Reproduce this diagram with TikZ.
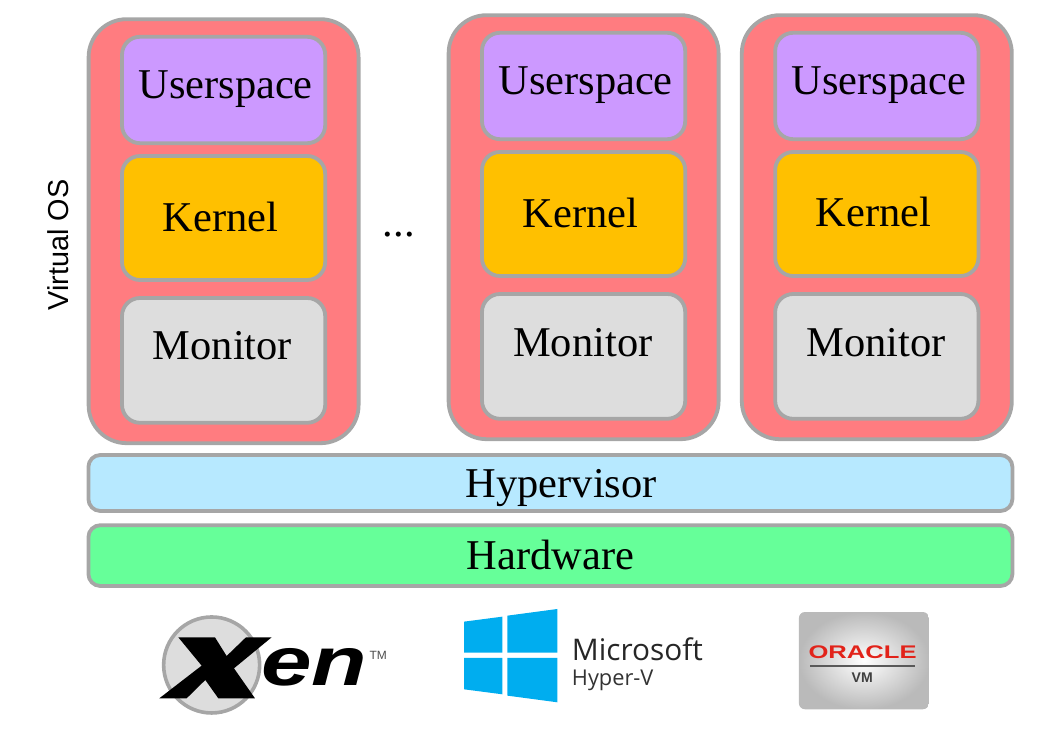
\documentclass[tikz,border=0pt]{standalone}
\usepackage{fontspec}
\setmainfont{Liberation Serif}
\setsansfont{Liberation Sans}
\newfontfamily\msfont{Open Sans}
\usepackage{tikz}
\usetikzlibrary{positioning,shadings}
\definecolor{vmred}{HTML}{FF7C80}
\definecolor{userpurple}{HTML}{CC99FF}
\definecolor{kernelorange}{HTML}{FFC000}
\definecolor{monitorgrey}{HTML}{DDDDDD}
\definecolor{hyperblue}{HTML}{B7E9FF}
\definecolor{hardgreen}{HTML}{66FF99}
\definecolor{edgegrey}{HTML}{A6A6A6}
\definecolor{winblue}{HTML}{00ADEF}
\definecolor{oraclered}{HTML}{E2231A}
\tikzset{
    layerbox/.style={draw=edgegrey, line width=0.95mm, inner sep=0pt, rounded corners=4.5mm},
    vmbox/.style={layerbox, fill=vmred, minimum width=6.75cm, minimum height=10.6cm, rounded corners=9.5mm},
    userbox/.style={layerbox, fill=userpurple, minimum width=5.08cm, minimum height=2.66cm},
    kernelbox/.style={layerbox, fill=kernelorange, minimum width=5.08cm, minimum height=3.1cm},
    monitorbox/.style={layerbox, fill=monitorgrey, minimum width=5.08cm, minimum height=3.12cm},
    hyperbox/.style={layerbox, fill=hyperblue, minimum width=23.1cm, minimum height=1.4cm, rounded corners=3mm},
    hardbox/.style={layerbox, fill=hardgreen, minimum width=23.1cm, minimum height=1.52cm, rounded corners=3mm},
    boxtext/.style={anchor=base, inner sep=0pt, font=\fontsize{30.2}{36}\selectfont},
    logopart/.style={shift={(#1,3.25)}, x=0.008333cm, y=-0.008333cm},
}
\begin{document}
\begin{tikzpicture}
    \useasboundingbox (0,0) rectangle (26.25,18.25);
    % first guest
    \node [vmbox] (vm1) at (5.59,12.47) {};
    \node [userbox] (user1) at (5.59,16.0) {};
    \node [kernelbox] (kernel1) at (5.59,12.8) {};
    \node [monitorbox] (monitor1) at (5.59,9.24) {};
    \node [boxtext] (usertext1) at (5.64,15.79) {Userspace};
    \node [boxtext] (kerneltext1) at (5.51,12.45) {Kernel};
    \node [boxtext] (monitortext1) at (5.56,9.27) {Monitor};
    % second guest
    \node [vmbox] (vm2) at (14.59,12.57) {};
    \node [userbox] (user2) at (14.59,16.1) {};
    \node [kernelbox] (kernel2) at (14.59,12.9) {};
    \node [monitorbox] (monitor2) at (14.59,9.34) {};
    \node [boxtext] (usertext2) at (14.64,15.89) {Userspace};
    \node [boxtext] (kerneltext2) at (14.51,12.55) {Kernel};
    \node [boxtext] (monitortext2) at (14.57,9.33) {Monitor};
    % third guest
    \node [vmbox] (vm3) at (21.92,12.57) {};
    \node [userbox] (user3) at (21.92,16.1) {};
    \node [kernelbox] (kernel3) at (21.92,12.9) {};
    \node [monitorbox] (monitor3) at (21.92,9.34) {};
    \node [boxtext] (usertext3) at (21.97,15.89) {Userspace};
    \node [boxtext] (kerneltext3) at (21.84,12.58) {Kernel};
    \node [boxtext] (monitortext3) at (21.9,9.33) {Monitor};
    % shared layers
    \node [hyperbox] (hyper) at (13.76,6.175) {};
    \node [hardbox] (hard) at (13.76,4.36) {};
    \node [boxtext] (hypertext) at (14.03,5.8) {Hypervisor};
    \node [boxtext] (hardtext) at (13.76,4.02) {Hardware};
    \node [boxtext] (dots) at (9.97,12.33) {...};
    \node [rotate=90, inner sep=0pt, font=\sffamily\fontsize{20.5}{24}\selectfont] (virtualos) at (1.45,12.13) {Virtual OS};
    % xen logo
    \begin{scope}[logopart=3.25]
        \draw[edgegrey, line width=0.9mm, fill=monitorgrey] (245,195) circle (4.0cm*0.3);
        \fill (145,112) -- (255,112) -- (290,168) -- (348,112) -- (425,112) -- (312,205)
            -- (375,295) -- (265,295) -- (226,240) -- (170,295) -- (88,295) -- (215,197) -- cycle;
        \node [xscale=1.32, transform shape, inner sep=0pt, anchor=base west, font=\sffamily\bfseries\itshape\fontsize{49}{52}\selectfont] (xentext) at (392,258) {en};
        \node [inner sep=0pt, text=black!70, font=\sffamily\fontsize{8.5}{10}\selectfont] (xentm) at (745,166) {TM};
    \end{scope}
    % hyper-v logo
    \begin{scope}[logopart=11.25]
        \fill[winblue] (42,65) -- (157,50) -- (157,158) -- (42,158) -- cycle;
        \fill[winblue] (172,47) -- (322,27) -- (322,158) -- (172,158) -- cycle;
        \fill[winblue] (42,174) -- (157,174) -- (157,283) -- (42,268) -- cycle;
        \fill[winblue] (172,174) -- (322,174) -- (322,307) -- (172,287) -- cycle;
        \node [inner sep=0pt, anchor=base west, text=black!85, font=\msfont\fontsize{21.2}{24}\selectfont] (mstext) at (365,183) {Microsoft};
        \node [inner sep=0pt, anchor=base west, text=black!80, font=\msfont\fontsize{15.5}{18}\selectfont] (hypervtext) at (365,258) {Hyper-V};
        % oracle logo
        \node [rounded corners=1.5mm, inner sep=0pt, minimum width=3.25cm, minimum height=2.43cm, shading=radial, inner color=white, outer color=black!27] (oraclebox) at (1242,182) {};
        \node [xscale=1.4, transform shape, inner sep=0pt, anchor=base, text=oraclered, font=\sffamily\bfseries\fontsize{13}{15}\selectfont] (oracletext) at (1238,177) {ORACLE};
        \draw[black!65, line width=0.5mm] (1080,197) -- (1395,197);
        \node [inner sep=0pt, text=black!75, font=\sffamily\bfseries\fontsize{10}{11}\selectfont] (vmtext) at (1237,232) {VM};
    \end{scope}
\end{tikzpicture}
\end{document}
